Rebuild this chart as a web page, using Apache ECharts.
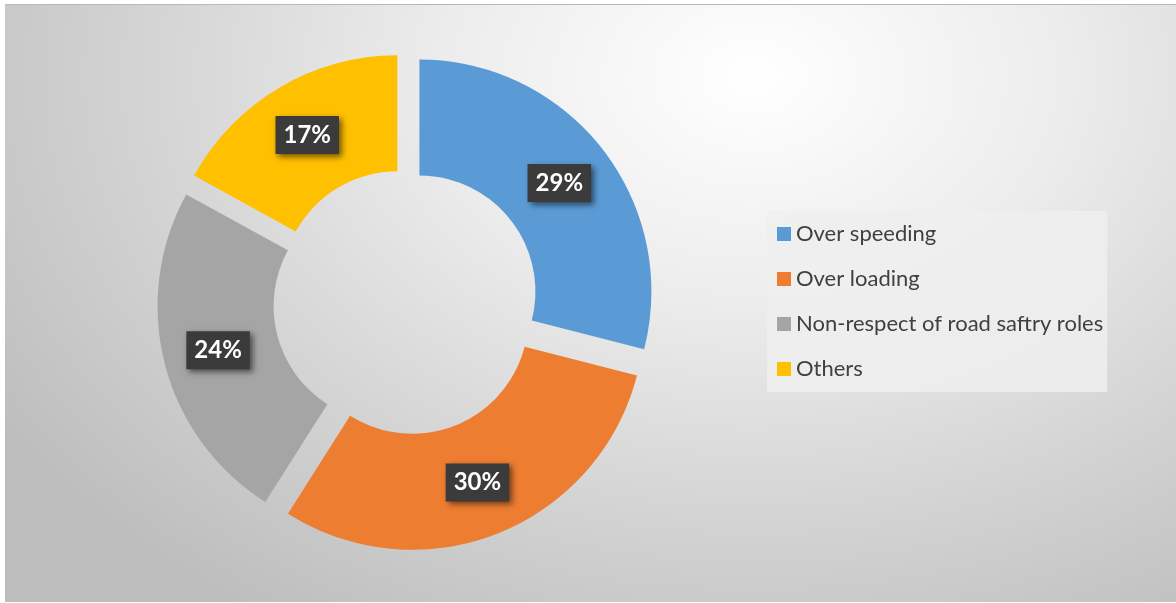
<!DOCTYPE html>
<html>
<head>
<meta charset="utf-8">
<script src="https://cdn.jsdelivr.net/npm/echarts@6/dist/echarts.min.js"></script>
<style>
html,body{margin:0;padding:0;background:#fff;width:1176px;height:603px;overflow:hidden;}
#chart{position:absolute;left:5px;top:4px;width:1171px;height:597px;
background:radial-gradient(ellipse 900px 650px at 64% 12%, #ffffff 0%, #ececec 35%, #d2d2d2 70%, #bdbdbd 100%);
border-top:1px solid #b8b8b8;}
</style>
</head>
<body>
<div id="chart"></div>
<script>
const categories = ['Over speeding', 'Over loading', 'Non-respect of road saftry roles', 'Others'];
const values = [29, 30, 24, 17];
const colors = ['#5B9BD5', '#ED7D31', '#A5A5A5', '#FFC000'];

const chart = echarts.init(document.getElementById('chart'), null, {renderer: 'canvas'});
const data = categories.map((c, i) => ({
  name: c, value: values[i], selected: true, itemStyle: {color: colors[i]}
}));
chart.setOption({
  backgroundColor: 'transparent',
  animation: false,
  legend: {
    orient: 'vertical',
    left: 762, top: 206,
    padding: [12, 4, 12, 10],
    backgroundColor: 'rgba(238,238,238,0.85)',
    itemWidth: 14, itemHeight: 14, itemGap: 23,
    icon: 'rect',
    selectedMode: false,
    textStyle: {fontFamily: 'Lato', fontSize: 22, color: '#404040'},
    data: categories
  },
  series: [{
    type: 'pie',
    center: [401, 297],
    radius: [116, 232],
    startAngle: 90,
    clockwise: true,
    selectedMode: 'multiple',
    selectedOffset: 17,
    label: {
      show: true,
      position: 'inside',
      formatter: p => p.value + '%',
      fontFamily: 'Lato', fontWeight: 'bold', fontSize: 24, color: '#ffffff',
      backgroundColor: '#3b3b3b',
      padding: [8, 8, 6, 8],
      shadowColor: 'rgba(0,0,0,0.55)', shadowBlur: 6, shadowOffsetX: 3, shadowOffsetY: 3
    },
    labelLine: {show: false},
    emphasis: {disabled: true},
    data: data
  }]
});
</script>
</body>
</html>
